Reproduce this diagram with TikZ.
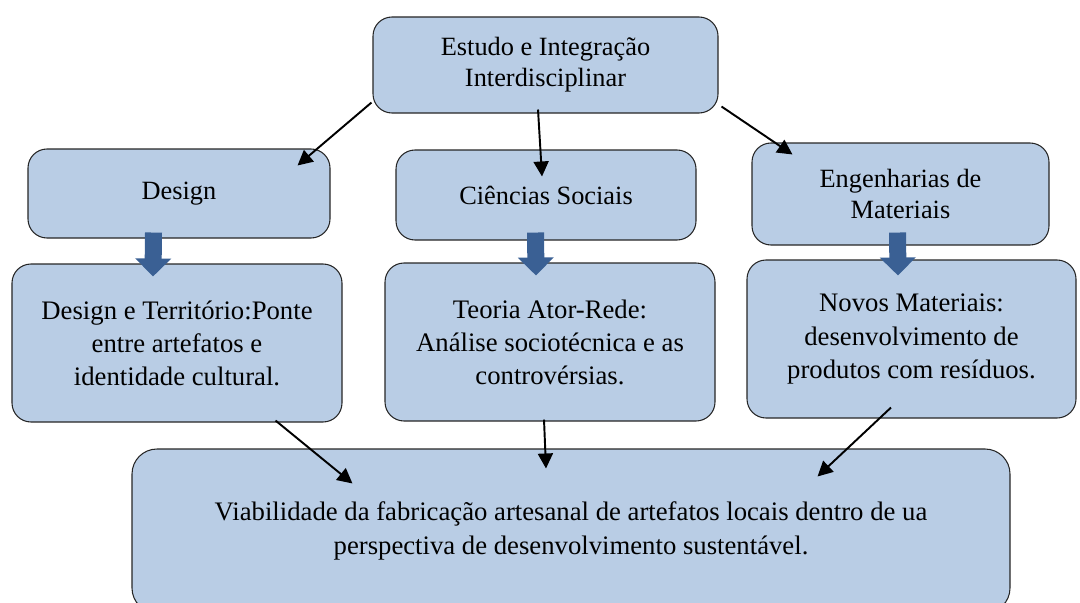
\documentclass[tikz,border=0pt]{standalone}
\usepackage{fontspec}
\setmainfont{Liberation Serif}
\usetikzlibrary{calc,arrows.meta,positioning}
\definecolor{boxBlue}{RGB}{185,205,229}
\definecolor{arrowBlue}{RGB}{58,96,148}
\tikzset{
  box/.style={rounded corners=0.38cm,draw=black!85,fill=boxBlue,line width=.6pt,align=center,inner sep=0pt},
  smallbox/.style={box,font=\fontsize{15}{17.6}\selectfont},
  bigbox/.style={box,font=\fontsize{15.2}{18.8}\selectfont},
  link/.style={line width=1.1pt,-{Triangle[length=0.3cm,width=0.3cm]}},
  blockarrow/.style={draw=arrowBlue,line width=0.34cm,-{Triangle[length=0.36cm,width=0.7cm]}}
}

\begin{document}
\begin{tikzpicture}
\useasboundingbox (0,0) rectangle (21.6,-12.04);
\clip (0,0) rectangle (21.6,-12.04);

% boxes
\node[smallbox,minimum width=6.9cm,minimum height=1.92cm] (top) at (10.91,-1.30) {Estudo e Integração\\Interdisciplinar};
\node[smallbox,minimum width=6.04cm,minimum height=1.78cm] (design) at (3.58,-3.87) {Design};
\node[smallbox,minimum width=6.0cm,minimum height=1.8cm] (ciencias) at (10.92,-3.90) {Ciências Sociais};
\node[smallbox,minimum width=5.94cm,minimum height=2.04cm] (engenharias) at (18.01,-3.88) {Engenharias de\\Materiais};

\node[bigbox,minimum width=6.6cm,minimum height=3.16cm] (territorio) at (3.54,-6.86) {Design e Território:Ponte\\entre artefatos e\\identidade cultural.};
\node[bigbox,minimum width=6.6cm,minimum height=3.16cm] (teoria) at (11.0,-6.84) {Teoria Ator-Rede:\\Análise sociotécnica e as\\controvérsias.};
\node[bigbox,minimum width=6.58cm,minimum height=3.16cm] (novos) at (18.23,-6.78) {Novos Materiais:\\desenvolvimento de\\produtos com resíduos.};

\node[box,rounded corners=0.5cm,font=\fontsize{15.2}{19.3}\selectfont,minimum width=17.56cm,minimum height=3.28cm] (viabilidade) at (11.42,-10.62) {Viabilidade da fabricação artesanal de artefatos locais dentro de ua\\perspectiva de desenvolvimento sustentável.};

% thin arrows
\draw[link] ([xshift=-0.02cm,yshift=0.22cm]top.south west) -- ([xshift=-0.66cm,yshift=-0.34cm]design.north east);
\draw[link] ([xshift=-0.15cm,yshift=0.08cm]top.south) -- ([xshift=-0.08cm,yshift=-0.54cm]ciencias.north);
\draw[link] ([xshift=0.06cm,yshift=0.14cm]top.south east) -- ([xshift=0.82cm,yshift=-0.24cm]engenharias.north west);

\draw[link] ([xshift=-1.34cm,yshift=0.04cm]territorio.south east) -- ([xshift=4.42cm,yshift=-0.7cm]viabilidade.north west);
\draw[link] ([xshift=-0.12cm,yshift=0.04cm]teoria.south) -- ([xshift=-0.5cm,yshift=-0.4cm]viabilidade.north);
\draw[link] ([xshift=-0.41cm,yshift=0.22cm]novos.south) -- ([xshift=-3.86cm,yshift=-0.56cm]viabilidade.north east);

% block arrows
\draw[blockarrow] ([xshift=-0.51cm,yshift=0.12cm]design.south) -- ([xshift=-0.48cm,yshift=-0.26cm]territorio.north);
\draw[blockarrow] ([xshift=-0.21cm,yshift=0.16cm]ciencias.south) -- ([xshift=-0.28cm,yshift=-0.26cm]teoria.north);
\draw[blockarrow] ([xshift=-0.06cm,yshift=0.26cm]engenharias.south) -- ([xshift=-0.27cm,yshift=-0.32cm]novos.north);

\end{tikzpicture}
\end{document}
